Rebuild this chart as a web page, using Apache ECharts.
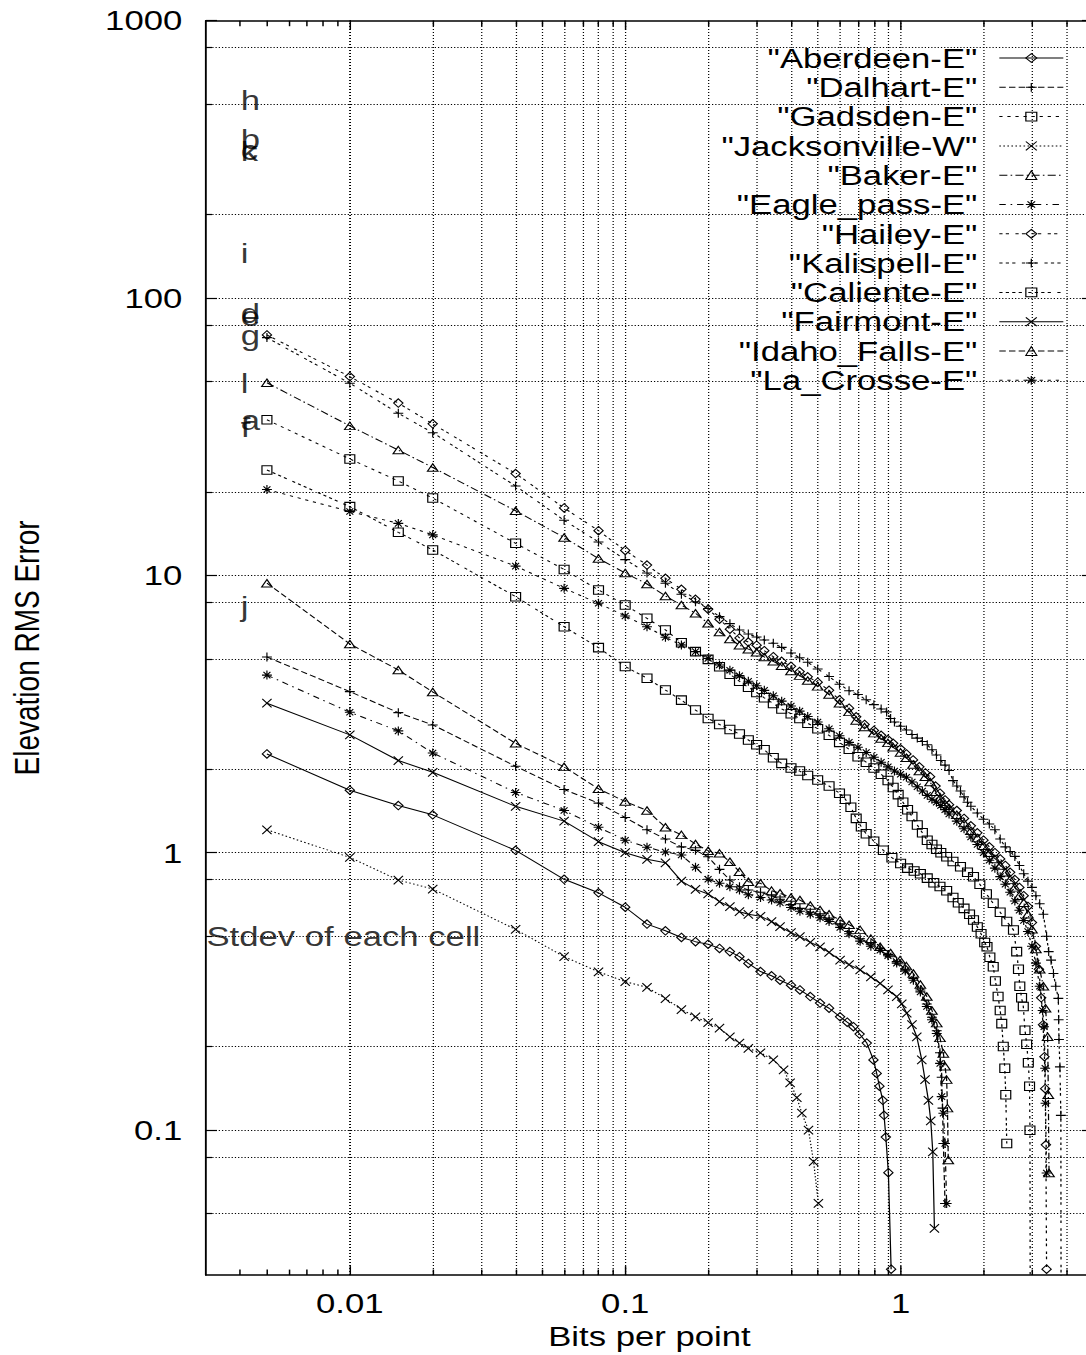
<!DOCTYPE html>
<html><head><meta charset="utf-8">
<script src="https://cdn.jsdelivr.net/npm/echarts@6/dist/echarts.min.js"></script>
<style>
html,body{margin:0;padding:0;background:#fff;overflow:hidden;width:1086px;height:1355px;}
#chart{width:900px;height:1355px;transform:scaleX(1.24);transform-origin:0 0;}
</style></head><body><div id="chart"></div>
<script>
// ---------------- DATA ----------------
const seriesNames = ['"Aberdeen-E"','"Dalhart-E"','"Gadsden-E"','"Jacksonville-W"','"Baker-E"','"Eagle_pass-E"','"Hailey-E"','"Kalispell-E"','"Caliente-E"','"Fairmont-E"','"Idaho_Falls-E"','"La_Crosse-E"'];

const aberdeen = [[0.005,2.27],[0.01,1.68],[0.015,1.48],[0.02,1.37],[0.04,1.02],[0.06,0.802],[0.08,0.717],[0.1,0.636],[0.12,0.553],[0.14,0.523],[0.16,0.495],[0.18,0.478],[0.2,0.468],[0.22,0.452],[0.24,0.44],[0.26,0.422],[0.28,0.399],[0.31,0.373],[0.34,0.36],[0.365,0.347],[0.4,0.333],[0.431,0.32],[0.47,0.303],[0.51,0.287],[0.55,0.275],[0.603,0.256],[0.64,0.245],[0.674,0.236],[0.71,0.222],[0.754,0.206],[0.797,0.179],[0.819,0.16],[0.838,0.144],[0.862,0.128],[0.871,0.113],[0.884,0.0944],[0.903,0.0702],[0.924,0.0315]];
const dalhart = [[0.005,5.08],[0.01,3.81],[0.015,3.2],[0.02,2.89],[0.04,2.05],[0.06,1.69],[0.08,1.51],[0.1,1.34],[0.12,1.21],[0.14,1.12],[0.16,1.05],[0.18,1.02],[0.2,0.967],[0.22,0.871],[0.24,0.797],[0.26,0.754],[0.28,0.734],[0.31,0.72],[0.34,0.7],[0.365,0.68],[0.4,0.65],[0.431,0.63],[0.47,0.61],[0.51,0.595],[0.55,0.575],[0.603,0.55],[0.65,0.52],[0.713,0.49],[0.78,0.47],[0.843,0.452],[0.9,0.43],[0.968,0.405],[1.04,0.38],[1.113,0.352],[1.18,0.32],[1.245,0.285],[1.3,0.255],[1.353,0.228],[1.39,0.19],[1.41,0.155],[1.42,0.12],[1.43,0.0895],[1.45,0.0544]];
const gadsden = [[0.005,36.4],[0.01,26.3],[0.015,21.9],[0.02,19.0],[0.04,13.05],[0.06,10.5],[0.08,8.86],[0.1,7.82],[0.12,7.0],[0.14,6.36],[0.16,5.72],[0.18,5.31],[0.2,4.98],[0.22,4.68],[0.24,4.4],[0.26,4.15],[0.28,3.95],[0.3,3.78],[0.32,3.62],[0.345,3.45],[0.37,3.3],[0.4,3.17],[0.43,3.05],[0.46,2.93],[0.5,2.8],[0.55,2.65],[0.6,2.5],[0.65,2.36],[0.7,2.22],[0.75,2.12],[0.8,2.02],[0.85,1.92],[0.9,1.82],[0.94,1.72],[0.98,1.62],[1.02,1.52],[1.06,1.43],[1.1,1.35],[1.15,1.26],[1.2,1.18],[1.25,1.11],[1.3,1.07],[1.35,1.03],[1.4,1.0],[1.47,0.967],[1.55,0.93],[1.65,0.89],[1.75,0.85],[1.84,0.819],[1.94,0.77],[2.05,0.71],[2.17,0.657],[2.3,0.61],[2.43,0.565],[2.57,0.527],[2.64,0.44],[2.68,0.38],[2.71,0.33],[2.75,0.3],[2.79,0.279],[2.83,0.229],[2.87,0.204],[2.91,0.175],[2.94,0.144],[2.95,0.0999],[2.97,0.001]];
const jacksonville = [[0.005,1.21],[0.01,0.962],[0.015,0.797],[0.02,0.74],[0.04,0.529],[0.06,0.422],[0.08,0.372],[0.1,0.343],[0.12,0.327],[0.14,0.298],[0.16,0.272],[0.18,0.256],[0.2,0.244],[0.22,0.233],[0.24,0.217],[0.26,0.206],[0.28,0.197],[0.31,0.19],[0.345,0.179],[0.376,0.165],[0.397,0.148],[0.42,0.131],[0.438,0.115],[0.463,0.1],[0.483,0.077],[0.503,0.0544]];
const baker = [[0.005,49.5],[0.01,34.6],[0.015,28.3],[0.02,24.5],[0.04,17.1],[0.06,13.7],[0.08,11.5],[0.1,10.2],[0.12,9.31],[0.14,8.43],[0.16,7.82],[0.18,7.3],[0.2,6.72],[0.22,6.25],[0.24,5.9],[0.26,5.6],[0.28,5.42],[0.3,5.28],[0.32,5.08],[0.345,4.9],[0.37,4.72],[0.4,4.52],[0.43,4.35],[0.46,4.18],[0.5,3.98],[0.55,3.72],[0.6,3.46],[0.65,3.22],[0.69,3.0],[0.74,2.84],[0.8,2.7],[0.85,2.58],[0.9,2.49],[0.94,2.4],[1.0,2.3],[1.05,2.2],[1.11,2.08],[1.17,1.97],[1.23,1.88],[1.28,1.8],[1.34,1.66],[1.39,1.57],[1.45,1.5],[1.5,1.45],[1.6,1.37],[1.7,1.28],[1.8,1.2],[1.9,1.13],[2.0,1.06],[2.1,1.0],[2.2,0.95],[2.3,0.9],[2.4,0.85],[2.5,0.8],[2.6,0.75],[2.7,0.7],[2.8,0.66],[2.9,0.6],[3.0,0.53],[3.1,0.45],[3.2,0.38],[3.3,0.33],[3.36,0.275],[3.42,0.217],[3.44,0.134],[3.46,0.07]];
const eaglePass = [[0.005,4.37],[0.01,3.21],[0.015,2.75],[0.02,2.29],[0.04,1.65],[0.06,1.42],[0.08,1.235],[0.1,1.11],[0.12,1.046],[0.14,1.006],[0.16,0.981],[0.18,0.886],[0.2,0.802],[0.22,0.776],[0.24,0.754],[0.26,0.734],[0.28,0.705],[0.31,0.69],[0.34,0.675],[0.365,0.66],[0.4,0.635],[0.431,0.615],[0.47,0.6],[0.51,0.583],[0.55,0.565],[0.603,0.538],[0.65,0.51],[0.713,0.48],[0.78,0.46],[0.843,0.445],[0.9,0.425],[0.968,0.4],[1.04,0.375],[1.113,0.347],[1.18,0.315],[1.245,0.279],[1.3,0.25],[1.353,0.223],[1.391,0.174],[1.41,0.132],[1.43,0.115],[1.45,0.0895],[1.47,0.0544]];
const hailey = [[0.005,73.6],[0.01,52.1],[0.015,41.8],[0.02,35.2],[0.04,23.3],[0.06,17.5],[0.08,14.5],[0.1,12.3],[0.12,10.9],[0.14,9.76],[0.16,8.91],[0.18,8.2],[0.2,7.55],[0.22,6.95],[0.24,6.4],[0.26,5.95],[0.28,5.75],[0.3,5.6],[0.32,5.35],[0.345,5.09],[0.37,4.9],[0.4,4.7],[0.43,4.5],[0.46,4.31],[0.5,4.12],[0.55,3.85],[0.6,3.56],[0.65,3.32],[0.69,3.09],[0.74,2.9],[0.8,2.76],[0.85,2.65],[0.9,2.56],[0.94,2.48],[1.0,2.37],[1.05,2.27],[1.11,2.16],[1.17,2.04],[1.23,1.94],[1.28,1.88],[1.34,1.74],[1.39,1.64],[1.45,1.55],[1.5,1.49],[1.6,1.42],[1.7,1.33],[1.8,1.25],[1.9,1.18],[2.0,1.11],[2.1,1.05],[2.2,1.0],[2.3,0.95],[2.4,0.9],[2.5,0.85],[2.6,0.8],[2.7,0.75],[2.8,0.7],[2.9,0.64],[3.0,0.56],[3.1,0.46],[3.18,0.38],[3.24,0.3],[3.29,0.24],[3.33,0.184],[3.35,0.141],[3.37,0.0885],[3.39,0.0315]];
const kalispell = [[0.005,72],[0.01,49.3],[0.015,38.4],[0.02,32.7],[0.04,21.0],[0.06,15.8],[0.08,13.2],[0.1,11.4],[0.12,10.2],[0.14,9.37],[0.16,8.55],[0.18,8.04],[0.2,7.6],[0.22,7.1],[0.24,6.7],[0.26,6.35],[0.28,6.15],[0.3,6.0],[0.32,5.85],[0.345,5.69],[0.37,5.5],[0.4,5.25],[0.43,5.05],[0.46,4.86],[0.5,4.6],[0.55,4.32],[0.6,4.05],[0.65,3.84],[0.7,3.72],[0.75,3.56],[0.8,3.42],[0.85,3.3],[0.89,3.22],[0.92,3.05],[0.95,2.96],[1.0,2.86],[1.05,2.77],[1.1,2.67],[1.15,2.59],[1.2,2.52],[1.25,2.45],[1.3,2.35],[1.35,2.25],[1.4,2.15],[1.45,2.07],[1.5,1.98],[1.55,1.82],[1.6,1.74],[1.65,1.67],[1.7,1.59],[1.75,1.52],[1.8,1.47],[1.9,1.39],[2.0,1.32],[2.1,1.27],[2.2,1.21],[2.3,1.12],[2.4,1.05],[2.5,1.01],[2.6,0.97],[2.7,0.9],[2.8,0.84],[2.9,0.79],[3.0,0.75],[3.1,0.7],[3.2,0.655],[3.3,0.6],[3.39,0.5],[3.45,0.44],[3.52,0.41],[3.59,0.367],[3.66,0.33],[3.74,0.2985],[3.75,0.25],[3.76,0.212],[3.79,0.169],[3.82,0.113],[3.84,0.001]];
const caliente = [[0.005,24.0],[0.01,17.7],[0.015,14.3],[0.02,12.35],[0.04,8.38],[0.06,6.53],[0.08,5.49],[0.1,4.69],[0.12,4.26],[0.14,3.86],[0.16,3.55],[0.18,3.27],[0.2,3.05],[0.22,2.9],[0.24,2.78],[0.26,2.68],[0.28,2.55],[0.3,2.45],[0.32,2.35],[0.345,2.2],[0.37,2.1],[0.4,2.02],[0.43,1.97],[0.46,1.9],[0.5,1.83],[0.55,1.74],[0.6,1.64],[0.63,1.56],[0.66,1.46],[0.69,1.33],[0.72,1.24],[0.75,1.17],[0.8,1.1],[0.866,1.02],[0.93,0.96],[1.0,0.915],[1.06,0.88],[1.12,0.86],[1.18,0.84],[1.25,0.81],[1.32,0.78],[1.39,0.755],[1.47,0.73],[1.55,0.69],[1.62,0.66],[1.7,0.63],[1.78,0.6],[1.84,0.572],[1.9,0.54],[1.96,0.51],[2.02,0.475],[2.06,0.458],[2.11,0.42],[2.17,0.388],[2.21,0.345],[2.26,0.303],[2.3,0.27],[2.33,0.242],[2.36,0.2],[2.39,0.167],[2.41,0.134],[2.43,0.0895]];
const fairmont = [[0.005,3.46],[0.01,2.66],[0.015,2.15],[0.02,1.95],[0.04,1.47],[0.06,1.30],[0.08,1.096],[0.1,1.0],[0.12,0.947],[0.14,0.92],[0.16,0.79],[0.18,0.738],[0.2,0.71],[0.22,0.666],[0.24,0.639],[0.26,0.613],[0.28,0.6],[0.31,0.59],[0.34,0.565],[0.365,0.541],[0.4,0.515],[0.431,0.498],[0.47,0.475],[0.51,0.458],[0.55,0.437],[0.603,0.41],[0.65,0.395],[0.713,0.378],[0.78,0.357],[0.843,0.338],[0.9,0.32],[0.968,0.303],[1.01,0.285],[1.053,0.264],[1.1,0.24],[1.145,0.217],[1.194,0.179],[1.227,0.152],[1.262,0.128],[1.287,0.108],[1.309,0.0835],[1.327,0.0442]];
const idahoFalls = [[0.005,9.37],[0.01,5.66],[0.015,4.56],[0.02,3.8],[0.04,2.48],[0.06,2.04],[0.08,1.7],[0.1,1.53],[0.12,1.42],[0.14,1.235],[0.16,1.16],[0.18,1.075],[0.2,1.017],[0.22,0.995],[0.24,0.928],[0.26,0.854],[0.28,0.786],[0.31,0.776],[0.34,0.73],[0.365,0.714],[0.4,0.69],[0.431,0.675],[0.47,0.645],[0.51,0.622],[0.55,0.6],[0.603,0.572],[0.65,0.55],[0.713,0.527],[0.78,0.49],[0.843,0.458],[0.92,0.435],[0.996,0.41],[1.05,0.39],[1.113,0.367],[1.18,0.335],[1.245,0.303],[1.3,0.27],[1.353,0.243],[1.39,0.215],[1.43,0.189],[1.45,0.17],[1.47,0.152],[1.48,0.12],[1.49,0.078]];
const laCrosse = [[0.005,20.4],[0.01,17.0],[0.015,15.4],[0.02,14.0],[0.04,10.8],[0.06,8.98],[0.08,7.93],[0.1,7.14],[0.12,6.53],[0.14,5.98],[0.16,5.61],[0.18,5.31],[0.2,5.02],[0.22,4.75],[0.24,4.55],[0.26,4.35],[0.28,4.15],[0.3,4.0],[0.32,3.85],[0.345,3.68],[0.37,3.52],[0.4,3.38],[0.43,3.24],[0.46,3.1],[0.5,2.96],[0.55,2.8],[0.6,2.64],[0.65,2.5],[0.7,2.4],[0.75,2.3],[0.8,2.21],[0.85,2.12],[0.9,2.04],[0.95,1.97],[1.0,1.92],[1.05,1.87],[1.1,1.8],[1.15,1.73],[1.2,1.67],[1.25,1.61],[1.3,1.56],[1.35,1.52],[1.4,1.48],[1.45,1.43],[1.5,1.38],[1.6,1.3],[1.7,1.22],[1.8,1.14],[1.9,1.07],[2.0,1.0],[2.1,0.94],[2.2,0.88],[2.3,0.82],[2.4,0.77],[2.5,0.72],[2.6,0.67],[2.7,0.62],[2.8,0.57],[2.9,0.52],[3.0,0.46],[3.1,0.4],[3.2,0.33],[3.28,0.27],[3.32,0.236],[3.35,0.167],[3.36,0.125],[3.39,0.07]];

const stdevLetters = ['h','b','c','k','i','d','e','g','l','a','f','j'];
const stdevValues  = [518, 374, 342, 337, 145, 88, 86, 73.6, 49.3, 36.3, 34.3, 7.74];
const stdevX = 0.004;
const noteText = 'Stdev of each cell';
const notePoint = [0.003, 0.5];

const xTickValues = [0.01, 0.1, 1];
const xTickLabels = ['0.01', '0.1', '1'];
const xMinorValues = [0.004,0.005,0.006,0.007,0.008,0.009,0.02,0.03,0.04,0.05,0.06,0.07,0.08,0.09,0.2,0.3,0.4,0.5,0.6,0.7,0.8,0.9,2,3,4];
const yTickValues = [0.1, 1, 10, 100, 1000];
const yTickLabels = ['0.1', '1', '10', '100', '1000'];
const yMinorValues = [0.05,0.08,0.2,0.5,0.8,2,5,8,20,50,80,200,500,800];

// ---------------- STYLE ----------------
const FONT = 'Liberation Sans, Arial, Helvetica, sans-serif';
const seriesData = [aberdeen, dalhart, gadsden, jacksonville, baker, eaglePass, hailey, kalispell, caliente, fairmont, idahoFalls, laCrosse];
const u = 1.3;
const dashes = [
  'solid', [4*u,2*u], [2*u,3*u], [1*u,1.5*u], [5*u,2*u,1*u,2*u], [4*u,3*u,1*u,3*u],
  [2*u,2*u,2*u,4*u], [2*u,2*u,2*u,2*u,2*u,4*u], [2*u,2*u,2*u,2*u,2*u,2*u,2*u,4*u],
  'solid', [4*u,2*u], [2*u,3*u]
];
const SYM = {
  diamond: {symbol:'diamond', size:[7.5,8.5]},
  plus: {symbol:'path://M5 0L5 10M0 5L10 5', size:[8,9]},
  square: {symbol:'rect', size:[8,8.5]},
  cross: {symbol:'path://M0 0L10 10M10 0L0 10', size:[7.5,8.5]},
  triangle: {symbol:'triangle', size:[8.5,7.5]},
  star: {symbol:'path://M5 0L5 10M0 5L10 5M1.5 1.5L8.5 8.5M8.5 1.5L1.5 8.5', size:[8,9]}
};
const symOrder = ['diamond','plus','square','cross','triangle','star'];

const xMin = 0.003, xMax = 5, yMin = 0.03, yMax = 1000;

function fmtBy(values, labels) {
  return function (v) {
    for (let i = 0; i < values.length; i++) {
      if (Math.abs(Math.log10(v) - Math.log10(values[i])) < 1e-6) return labels[i];
    }
    return '';
  };
}

const tickStyle = {color:'#000', width:1.2};
function xAxisDef(pos, major, withLine, withLabel) {
  return {
    type:'log', logBase:10, min:xMin, max:xMax, position:pos, gridIndex:0,
    axisLine:{show:withLine, onZero:false, lineStyle:{color:'#000', width:1.5}},
    axisTick:{show:true, inside:true, length: major ? 9 : 5.5, customValues: major ? xTickValues : xMinorValues, lineStyle:tickStyle},
    axisLabel: withLabel ? {show:true, customValues:xTickValues, formatter:fmtBy(xTickValues, xTickLabels), fontSize:28, fontFamily:FONT, color:'#000', margin:14} : {show:false},
    splitLine:{show:false}, minorTick:{show:false}, axisPointer:{show:false}
  };
}
function yAxisDef(pos, major, withLine, withLabel) {
  return {
    type:'log', logBase:10, min:yMin, max:yMax, position:pos, gridIndex:0,
    axisLine:{show:withLine, onZero:false, lineStyle:{color:'#000', width:1.5}},
    axisTick:{show:true, inside:true, length: major ? 9 : 5, customValues: major ? yTickValues : yMinorValues, lineStyle:tickStyle},
    axisLabel: withLabel ? {show:true, customValues:yTickValues, formatter:fmtBy(yTickValues, yTickLabels), fontSize:28, fontFamily:FONT, color:'#000', margin:19} : {show:false},
    splitLine:{show:false}, minorTick:{show:false}, axisPointer:{show:false}
  };
}

const xAxes = [
  xAxisDef('bottom', true, true, true),
  xAxisDef('bottom', false, false, false),
  xAxisDef('top', true, true, false),
  xAxisDef('top', false, false, false)
];
Object.assign(xAxes[0], {name:'Bits per point', nameLocation:'middle', nameGap:43,
  nameTextStyle:{fontSize:28, fontFamily:FONT, color:'#000'}});
const yAxes = [
  yAxisDef('left', true, true, true),
  yAxisDef('left', false, false, false),
  yAxisDef('right', true, true, false),
  yAxisDef('right', false, false, false)
];
Object.assign(yAxes[0], {name:'Elevation RMS Error', nameLocation:'middle', nameRotate:90, nameGap:130,
  nameTextStyle:{fontSize:28, fontFamily:FONT, color:'#000'}});

const gridLines = [];
xMinorValues.concat(xTickValues).forEach(v => gridLines.push({xAxis:v, lineStyle:{type:[1,2], color:'#000', width:1}}));
yMinorValues.concat(yTickValues.filter(v => v < yMax)).forEach(v => gridLines.push({yAxis:v, lineStyle:{type:[1,1.6], color:'#000', width:1}}));

const series = [{
  type:'line', name:'_grid', data:[], xAxisIndex:0, yAxisIndex:0, z:1, silent:true,
  markLine:{silent:true, symbol:['none','none'], label:{show:false}, animation:false, data:gridLines}
}];

seriesData.forEach((d, i) => {
  const s = SYM[symOrder[i % 6]];
  series.push({
    type:'line', name:seriesNames[i], data:d, xAxisIndex:0, yAxisIndex:0, z:3,
    symbol:s.symbol, symbolSize:s.size, showSymbol:true, showAllSymbol:true, clip:true,
    lineStyle:{color:'#000', width:1, type:dashes[i]},
    itemStyle:{color:'rgba(0,0,0,0)', borderColor:'#000', borderWidth:1},
    emphasis:{disabled:true}, animation:false
  });
});

series.push({
  type:'scatter', name:'_labels', xAxisIndex:0, yAxisIndex:0, z:4, clip:false, silent:true,
  data: stdevLetters.map((l, i) => [stdevX, stdevValues[i], l]).concat([[notePoint[0], notePoint[1], noteText]]),
  symbolSize:1, itemStyle:{color:'rgba(0,0,0,0)'},
  label:{show:true, position:'right', distance:0, formatter:p => p.value[2], fontSize:28, fontFamily:FONT, color:'#000'},
  emphasis:{disabled:true}, animation:false
});

const chart = echarts.init(document.getElementById('chart'), null, {renderer:'svg'});
chart.setOption({
  animation:false,
  backgroundColor:'#fff',
  grid:{left:165.9, top:20.7, width:715.6, height:1255, containLabel:false},
  xAxis:xAxes,
  yAxis:yAxes,
  legend:{
    orient:'vertical', right:37, top:39, align:'right', selectedMode:false,
    itemWidth:51.6, itemHeight:11, itemGap:1.3,
    data:seriesNames,
    textStyle:{fontSize:28, fontFamily:FONT, color:'#000', lineHeight:28, padding:[0,12.7,0,0]},
    itemStyle:{color:'rgba(0,0,0,0)', borderColor:'#000', borderWidth:1},
    lineStyle:{color:'#000', width:1}
  },
  series:series
});
</script></body></html>
